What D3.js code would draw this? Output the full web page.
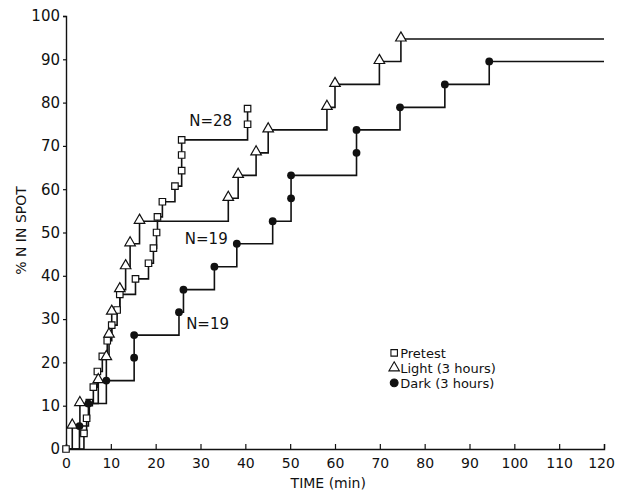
<!DOCTYPE html>
<html>
<head>
<meta charset="utf-8">
<script src="https://cdn.jsdelivr.net/npm/d3@7"></script>
<style>
  body { margin: 0; background: #fff; }
  text { font-family: "DejaVu Sans", sans-serif; fill: #111; }
</style>
</head>
<body>
<div id="chart"></div>
<script>
// cumulative % of animals in the spot
var pretestTime = [0, 4.0, 4.6, 5.2, 6.1, 7.0, 8.1, 9.2, 10.2, 11.4, 12.0, 15.5, 18.4, 19.5, 20.2, 20.4, 21.5, 24.3, 25.8, 25.8, 25.8, 40.5, 40.5];
var pretestPct = [0, 3.6, 7.1, 10.7, 14.3, 17.9, 21.4, 25.0, 28.6, 32.1, 35.7, 39.3, 42.9, 46.4, 50.0, 53.6, 57.1, 60.7, 64.3, 67.9, 71.4, 75.0, 78.6];

var lightTime = [1.4, 3.1, 7.2, 9.0, 9.6, 10.2, 12.0, 13.3, 14.3, 16.4, 36.2, 38.4, 42.4, 45.1, 58.2, 60.0, 69.9, 74.7];
var lightPct = [5.3, 10.5, 15.8, 21.1, 26.3, 31.6, 36.8, 42.1, 47.4, 52.6, 57.9, 63.2, 68.4, 73.7, 78.9, 84.2, 89.5, 94.7];

var darkTime = [3.0, 5.0, 9.0, 15.2, 15.2, 25.2, 26.2, 33.1, 38.1, 46.1, 50.2, 50.2, 64.8, 64.8, 74.5, 84.5, 94.4];
var darkPct = [5.3, 10.5, 15.8, 21.1, 26.3, 31.6, 36.8, 42.1, 47.4, 52.6, 57.9, 63.2, 68.4, 73.7, 78.9, 84.2, 89.5];

var xTicks = [0, 10, 20, 30, 40, 50, 60, 70, 80, 90, 100, 110, 120];
var yTicks = [0, 10, 20, 30, 40, 50, 60, 70, 80, 90, 100];

var svgWidth = 617;
var svgHeight = 495;
var margin = { top: 16, right: 13, bottom: 46, left: 66 };
var width = svgWidth - margin.left - margin.right;
var height = svgHeight - margin.top - margin.bottom;

var svg = d3.select("#chart")
  .append("svg")
  .attr("width", svgWidth)
  .attr("height", svgHeight);

var chartGroup = svg.append("g")
  .attr("transform", `translate(${margin.left}, ${margin.top})`);

var xScale = d3.scaleLinear().domain([0, 120]).range([0, width]);
var yScale = d3.scaleLinear().domain([0, 100]).range([height, 0]);

// axes
var bottomAxis = d3.axisBottom(xScale).tickValues(xTicks).tickSize(-5).tickPadding(9)
  .tickFormat(d3.format("d"));
var leftAxis = d3.axisLeft(yScale).tickValues(yTicks).tickSize(3).tickPadding(3)
  .tickFormat(d3.format("d"));

var xAxis = chartGroup.append("g")
  .attr("transform", `translate(0, ${height})`)
  .call(bottomAxis);
var yAxis = chartGroup.append("g").call(leftAxis);

[xAxis, yAxis].forEach(function(ax) {
  ax.select(".domain").attr("stroke", "#111").attr("stroke-width", 1.4);
  ax.selectAll(".tick line").attr("stroke", "#111").attr("stroke-width", 1.2);
  ax.selectAll(".tick text").style("font-size", "15px").attr("fill", "#111");
});
xAxis.selectAll(".tick text").style("font-size", "14px")
  .attr("dx", d => d === 120 ? -3 : 0);

// axis titles
chartGroup.append("text")
  .attr("x", xScale(58.5))
  .attr("y", height + 39)
  .attr("text-anchor", "middle")
  .style("font-size", "14px")
  .text("TIME (min)");

chartGroup.append("text")
  .attr("transform", "rotate(-90)")
  .attr("x", -yScale(50) + 2)
  .attr("y", -40)
  .attr("text-anchor", "middle")
  .style("font-size", "14px")
  .text("% N IN SPOT");

// step curves
function stepPoints(times, pcts, endTime) {
  var pts = [[0, 0]];
  times.forEach(function(t, i) { pts.push([t, pcts[i]]); });
  if (endTime) pts.push([endTime, pcts[pcts.length - 1]]);
  return pts;
}

var stepLine = d3.line()
  .x(d => xScale(d[0]))
  .y(d => yScale(d[1]))
  .curve(d3.curveStepAfter);

var curves = [
  stepPoints(pretestTime, pretestPct, null),
  stepPoints(lightTime, lightPct, 120),
  stepPoints(darkTime, darkPct, 120)
];

chartGroup.selectAll(".step")
  .data(curves)
  .enter()
  .append("path")
  .attr("class", "step")
  .attr("d", stepLine)
  .attr("fill", "none")
  .attr("stroke", "#111")
  .attr("stroke-width", 1.6);

// markers
var sqSymbol = d3.symbol().type(d3.symbolSquare).size(42);
var triSymbol = d3.symbol().type(d3.symbolTriangle).size(48);
var dotSymbol = d3.symbol().type(d3.symbolCircle).size(48);

chartGroup.selectAll(".pre")
  .data(pretestTime)
  .enter()
  .append("path")
  .attr("d", sqSymbol)
  .attr("transform", (d, i) => `translate(${xScale(d)}, ${yScale(pretestPct[i])})`)
  .attr("fill", "#fff")
  .attr("stroke", "#111")
  .attr("stroke-width", 1.2);

chartGroup.selectAll(".light")
  .data(lightTime)
  .enter()
  .append("path")
  .attr("d", triSymbol)
  .attr("transform", (d, i) => `translate(${xScale(d)}, ${yScale(lightPct[i]) - 1})`)
  .attr("fill", "#fff")
  .attr("stroke", "#111")
  .attr("stroke-width", 1.2);

chartGroup.selectAll(".dark")
  .data(darkTime)
  .enter()
  .append("path")
  .attr("d", dotSymbol)
  .attr("transform", (d, i) => `translate(${xScale(d)}, ${yScale(darkPct[i])})`)
  .attr("fill", "#111");

// N labels
var nLabels = [
  { text: "N=28", t: 27.5, v: 74.5 },
  { text: "N=19", t: 26.5, v: 47.3 },
  { text: "N=19", t: 26.8, v: 27.8 }
];
chartGroup.selectAll(".nlab")
  .data(nLabels)
  .enter()
  .append("text")
  .attr("x", d => xScale(d.t))
  .attr("y", d => yScale(d.v))
  .style("font-size", "15px")
  .text(d => d.text);

// legend
var legendItems = [
  { label: "Pretest", sym: sqSymbol, fill: "#fff" },
  { label: "Light (3 hours)", sym: triSymbol, fill: "#fff" },
  { label: "Dark (3 hours)", sym: dotSymbol, fill: "#111" }
];
var legend = chartGroup.append("g")
  .attr("transform", `translate(${xScale(73.2)}, ${yScale(22.2)})`);
legendItems.forEach(function(item, i) {
  var row = legend.append("g").attr("transform", `translate(0, ${i * 15})`);
  row.append("path")
    .attr("d", item.sym)
    .attr("fill", item.fill)
    .attr("stroke", "#111")
    .attr("stroke-width", 1.1);
  row.append("text")
    .attr("x", 6)
    .attr("y", 5)
    .style("font-size", "13px")
    .text(item.label);
});
</script>
</body>
</html>
